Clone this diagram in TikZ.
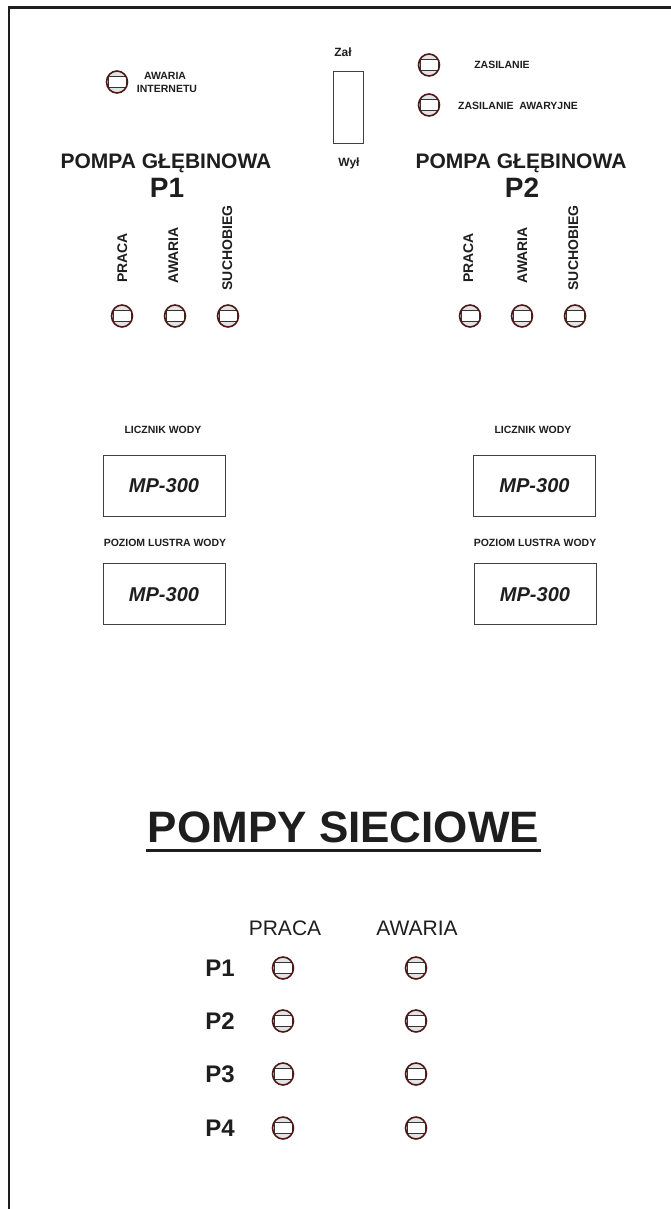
\documentclass[tikz,border=0pt]{standalone}
\usepackage{fontspec}
\setmainfont{Liberation Sans}
\usetikzlibrary{shapes.geometric}
\definecolor{lampred}{HTML}{4E1818}
\definecolor{ink}{HTML}{1E1E1E}
\begin{document}
\begin{tikzpicture}[x=1pt,y=-1pt,
  every node/.style={inner sep=0pt, text=ink},
  small/.style={font=\bfseries\fontsize{10.5}{12}\selectfont, text height=7.5pt, text depth=0pt},
  swlab/.style={font=\bfseries\fontsize{12}{14}\selectfont, text height=8.6pt, text depth=0pt},
  vlab/.style={font=\bfseries\fontsize{14}{16}\selectfont, text height=10pt, text depth=0pt, rotate=90},
  title/.style={font=\bfseries\fontsize{21}{24}\selectfont, text height=15pt, text depth=0pt},
  pnum/.style={font=\bfseries\fontsize{28}{32}\selectfont, text height=20pt, text depth=0pt},
  rowp/.style={font=\bfseries\fontsize{24}{28}\selectfont, text height=17.2pt, text depth=0pt},
  head/.style={font=\fontsize{21}{24}\selectfont, text height=15pt, text depth=0pt},
  big/.style={font=\bfseries\fontsize{44}{50}\selectfont, text height=31.5pt, text depth=0pt},
  meter/.style={draw=ink!85, line width=0.8pt, minimum width=122pt, minimum height=61pt,
    font=\bfseries\itshape\fontsize{20}{24}\selectfont, text height=14.3pt, text depth=0pt},
  switchbox/.style={draw=ink!85, line width=0.8pt, minimum width=30pt, minimum height=72pt},
  lamp/.style={ellipse, draw=lampred, line width=1.6pt, fill=gray!22,
    minimum width=21pt, minimum height=22pt, inner sep=0pt,
    path picture={\draw[gray!40!black, fill=white, line width=0.7pt]
      ([shift={(-9pt,-5.5pt)}]path picture bounding box.center) rectangle
      ([shift={(9pt,5.5pt)}]path picture bounding box.center);}},
  frame/.style={draw=ink, line width=2.6pt}
]
\useasboundingbox (0,0) rectangle (671,1209);
% frame
\draw[frame] (9,1209) -- (9,7.5) -- (671,7.5);

% top area
\node[lamp] (lai) at (117,82) {};
\node[small] (tai1) at (165,76) {AWARIA};
\node[small] (tai2) at (167,89) {INTERNETU};

\node[swlab] (zal) at (343,52) {Zał};
\node[switchbox] (sw) at (348,107) {};
\node[swlab] (wyl) at (349,162) {Wył};

\node[lamp] (lz) at (429,65) {};
\node[small] (tz) at (502,65) {ZASILANIE};
\node[lamp] (lza) at (429,105) {};
\node[small] (tza) at (518,106) {ZASILANIE\ \ AWARYJNE};

% pump P1
\node[title] (t1) at (166,161) {POMPA GŁĘBINOWA};
\node[pnum] (p1) at (167,187) {P1};
\node[vlab] (v1a) at (122,258) {PRACA};
\node[vlab] (v1b) at (173,255) {AWARIA};
\node[vlab] (v1c) at (227,248) {SUCHOBIEG};
\node[lamp] (l1a) at (122,316) {};
\node[lamp] (l1b) at (175,316) {};
\node[lamp] (l1c) at (228,316) {};

% pump P2
\node[title] (t2) at (521,161) {POMPA GŁĘBINOWA};
\node[pnum] (p2) at (522,187) {P2};
\node[vlab] (v2a) at (468,258) {PRACA};
\node[vlab] (v2b) at (522,255) {AWARIA};
\node[vlab] (v2c) at (573,248) {SUCHOBIEG};
\node[lamp] (l2a) at (470,316) {};
\node[lamp] (l2b) at (522,316) {};
\node[lamp] (l2c) at (575,316) {};

% meters
\node[small] (lw1) at (163,430) {LICZNIK WODY};
\node[meter] (m1) at (164,485.5) {MP-300};
\node[small] (pl1) at (165,543) {POZIOM LUSTRA WODY};
\node[meter] (m2) at (164,594) {MP-300};

\node[small] (lw2) at (533,430) {LICZNIK WODY};
\node[meter] (m3) at (534.5,485.5) {MP-300};
\node[small] (pl2) at (535,543) {POZIOM LUSTRA WODY};
\node[meter] (m4) at (535,594) {MP-300};

% network pumps
\node[big] (ps) at (343.5,827) {POMPY SIECIOWE};
\draw[ink, line width=3pt] ([xshift=-1.5pt,yshift=-8pt]ps.south west) -- ([xshift=2pt,yshift=-8pt]ps.south east);

\node[head] (hp) at (285,928) {PRACA};
\node[head] (ha) at (417,928) {AWARIA};

\node[rowp] (r1) at (220,968) {P1};
\node[lamp] (r1a) at (283,968) {};
\node[lamp] (r1b) at (416,968) {};
\node[rowp] (r2) at (220,1021) {P2};
\node[lamp] (r2a) at (283,1021) {};
\node[lamp] (r2b) at (416,1021) {};
\node[rowp] (r3) at (220,1074) {P3};
\node[lamp] (r3a) at (283,1074) {};
\node[lamp] (r3b) at (416,1074) {};
\node[rowp] (r4) at (220,1128) {P4};
\node[lamp] (r4a) at (283,1128) {};
\node[lamp] (r4b) at (416,1128) {};
\end{tikzpicture}
\end{document}
